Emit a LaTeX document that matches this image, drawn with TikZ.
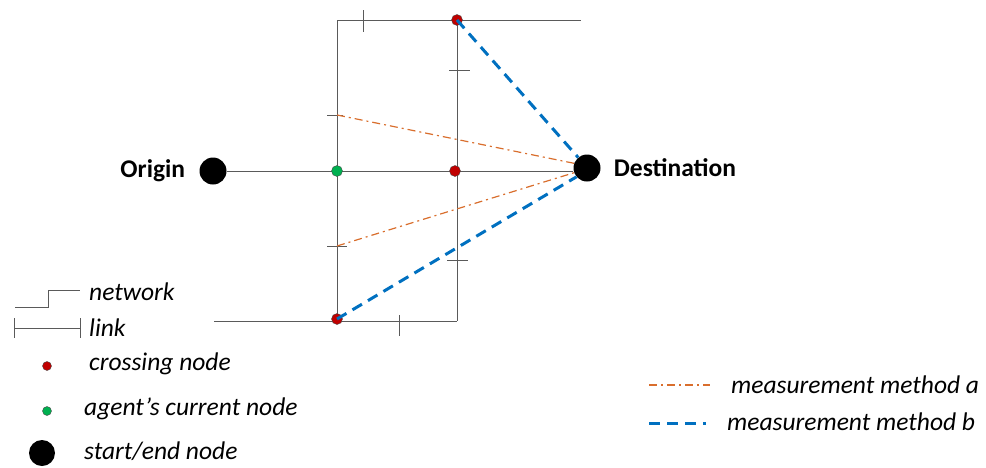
\documentclass[tikz,border=0pt]{standalone}
\usepackage{fontspec}
\setmainfont{Carlito}
\usetikzlibrary{positioning}
\definecolor{netgray}{RGB}{90,90,90}
\definecolor{methoda}{RGB}{217,110,45}
\definecolor{methodb}{RGB}{0,112,192}
\definecolor{crossred}{RGB}{192,0,0}
\definecolor{agentgreen}{RGB}{0,176,80}
\begin{document}
\begin{tikzpicture}[
  x=1pt, y=-1pt,
  net/.style={draw=netgray, line width=0.9pt},
  tick/.style={draw=netgray, line width=0.9pt},
  crossing/.style={circle, draw=black!70, line width=0.4pt, fill=crossred, inner sep=0pt, minimum size=11pt},
  current/.style={circle, draw=black!70, line width=0.4pt, fill=agentgreen, inner sep=0pt, minimum size=11pt},
  endpoint/.style={circle, fill=black, inner sep=0pt, minimum size=27pt},
  meth a/.style={draw=methoda, line width=1.2pt, dash pattern=on 8pt off 4pt on 2pt off 4pt},
  meth b/.style={draw=methodb, line width=3pt, dash pattern=on 11pt off 7pt},
  lbl/.style={font=\fontsize{25.5}{28}\selectfont\bfseries, inner sep=0pt},
  legend/.style={font=\fontsize{25.5}{28}\selectfont\itshape, anchor=west, inner sep=0pt}
]
\useasboundingbox (0,0) rectangle (986,467);

% Netwerk
\coordinate (tl) at (337,20);
\coordinate (tr) at (581,20);
\coordinate (bl) at (214,321);
\coordinate (br) at (457,321);
\coordinate (la) at (337,115);
\coordinate (lb) at (337,246);

\node[endpoint] (orig) at (213,171) {};
\node[endpoint] (dest) at (587,168) {};
\node[lbl, left=14pt of orig] {Origin};
\node[lbl, right=13pt of dest] {Destination};

\draw[net] (tl) -- (tr);
\draw[net] (tl) -- (337,321);
\draw[net] (457,20) -- (br);
\draw[net] (bl) -- (br);
\draw[net] (orig) -- (dest.west |- orig);

% links
\draw[tick] (363,10) -- (363,32);
\draw[tick] (449,70) -- (470,70);
\draw[tick] (327,115) -- (343,115);
\draw[tick] (327,246) -- (347,246);
\draw[tick] (447,260) -- (468,260);
\draw[tick] (399,315) -- (399,336);

\node[current] (cur) at (337,171) {};
\node[crossing] (cmid) at (455,171) {};
\node[crossing] (ctop) at (457,20) {};
\node[crossing] (cbot) at (337,319) {};

% meetmethoden
\draw[meth a] (la) -- (dest.160);
\draw[meth a] (lb) -- (dest.200);
\draw[meth b] (ctop.center) -- (dest.130);
\draw[meth b] (cbot.center) -- (dest.220);

% legenda
\draw[net] (15,307) -- (48,307) -- (48,290) -- (80,290);
\node[legend] (lnet) at (89,292) {network};
\draw[tick] (14,328) -- (80,328);
\draw[tick] (14,318) -- (14,338);
\draw[tick] (80,318) -- (80,338);
\node[legend] (llink) at (89,328) {link};
\node[crossing, minimum size=9pt] (kcross) at (47,366) {};
\node[legend] at (89,364) {crossing node};
\node[current, minimum size=9pt] (kcur) at (47,411) {};
\node[legend] at (84,409) {agent’s current node};
\node[endpoint, minimum size=26pt] (kend) at (42,453) {};
\node[legend] at (84,451) {start/end node};

\draw[meth a] (649,385) coordinate (ka) -- (710,385);
\node[legend] at (731,385) {measurement method a};
\draw[meth b] (649,423) coordinate (kb) -- (706,423);
\node[legend] at (727,422) {measurement method b};
\end{tikzpicture}
\end{document}
